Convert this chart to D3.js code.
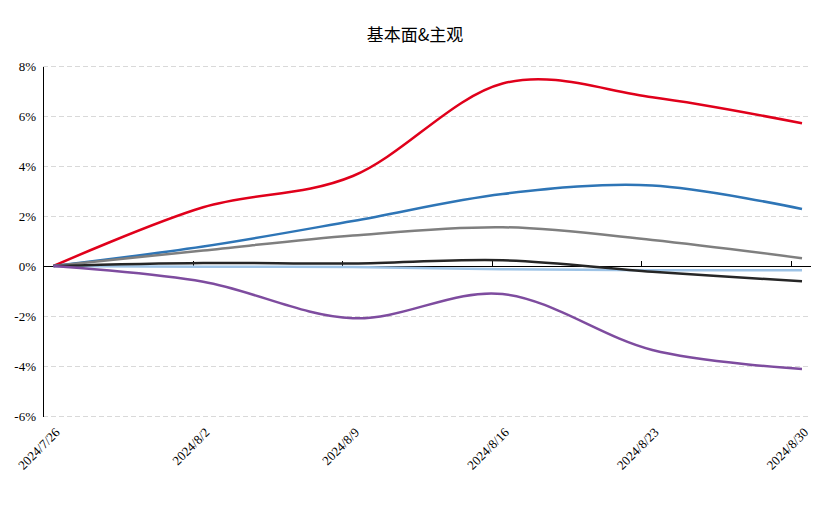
<!DOCTYPE html>
<html><head><meta charset="utf-8">
<script src="https://cdn.jsdelivr.net/npm/d3@7"></script>
<style>body{margin:0;background:#fff}svg{display:block}</style>
</head><body>
<script>
const categories = ["2024/7/26","2024/8/2","2024/8/9","2024/8/16","2024/8/23","2024/8/30"];
const seriesRed = [0, 2.35, 3.6, 7.3, 6.75, 5.71];
const seriesBlue = [0, 0.78, 1.80, 2.88, 3.22, 2.28];
const seriesGray = [0, 0.62, 1.22, 1.55, 1.04, 0.31];
const seriesLightBlue = [0, -0.03, -0.04, -0.13, -0.17, -0.17];
const seriesBlack = [0, 0.12, 0.10, 0.23, -0.23, -0.61];
const seriesPurple = [0, -0.63, -2.09, -1.12, -3.36, -4.12];
const yTicks = [-6, -4, -2, 0, 2, 4, 6, 8];
const title = "基本面&主观";

const series = [
  {v: seriesRed, c: "#e0001b"},
  {v: seriesBlue, c: "#2e75b6"},
  {v: seriesGray, c: "#7f7f7f"},
  {v: seriesLightBlue, c: "#9dc3e6"},
  {v: seriesBlack, c: "#262626"},
  {v: seriesPurple, c: "#7e4c9f"}
];

const W = 822, H = 510;
const svg = d3.select("body").append("svg").attr("width", W).attr("height", H);

const x = d3.scalePoint().domain(categories).range([53.5, 802]);
const xTick = d3.scalePoint().domain(categories).range([43, 791]);
const y = d3.scaleLinear().domain([-6, 8]).range([416, 66]);

// grid
svg.append("g").selectAll("line").data(yTicks.filter(d => d !== 0)).join("line")
  .attr("x1", 43).attr("x2", 811)
  .attr("y1", d => y(d)).attr("y2", d => y(d))
  .attr("stroke", "#d9d9d9").attr("stroke-width", 1).attr("stroke-dasharray", "5,3")
  .attr("shape-rendering", "crispEdges");

// y axis
const yAxis = d3.axisLeft(y).tickValues(yTicks).tickSize(0).tickPadding(7)
  .tickFormat(d => d + "%");
const gy = svg.append("g").attr("transform", "translate(43,0)").call(yAxis);
gy.select(".domain").attr("stroke", "#000").attr("shape-rendering", "crispEdges");
gy.selectAll("text").attr("font-family", "'Liberation Serif','Times New Roman',serif")
  .attr("font-size", 13).attr("fill", "#000");

// x axis line + ticks (upward) at y=0
const xAxis = d3.axisTop(xTick).tickSize(5).tickFormat("");
const gx = svg.append("g").attr("transform", `translate(0,${y(0)})`).call(xAxis);
gx.select(".domain").attr("d", `M43,0H811`).attr("stroke", "#000").attr("shape-rendering", "crispEdges");
gx.selectAll(".tick line").attr("stroke", "#000").attr("shape-rendering", "crispEdges");
gx.selectAll(".tick").filter((d, i) => i === 0).remove();

// x labels
svg.append("g").selectAll("text").data(categories).join("text")
  .attr("transform", d => `translate(${x(d) + 4},${430}) rotate(-45)`)
  .attr("text-anchor", "end").attr("dy", "0.35em")
  .attr("font-family", "'Liberation Serif','Times New Roman',serif")
  .attr("font-size", 13).attr("fill", "#000")
  .text(d => d);

// lines
const line = d3.line().x((d, i) => x(categories[i])).y(d => y(d)).curve(d3.curveCardinal.tension(0));
svg.append("g").selectAll("path").data(series).join("path")
  .attr("d", s => line(s.v)).attr("fill", "none")
  .attr("stroke", s => s.c).attr("stroke-width", 2.5).attr("stroke-linejoin", "round");

// title
svg.append("text").attr("x", 415).attr("y", 41).attr("text-anchor", "middle")
  .attr("font-family", "'Noto Sans CJK SC',sans-serif").attr("font-size", 17)
  .attr("fill", "#000").text(title);
</script>
</body></html>
